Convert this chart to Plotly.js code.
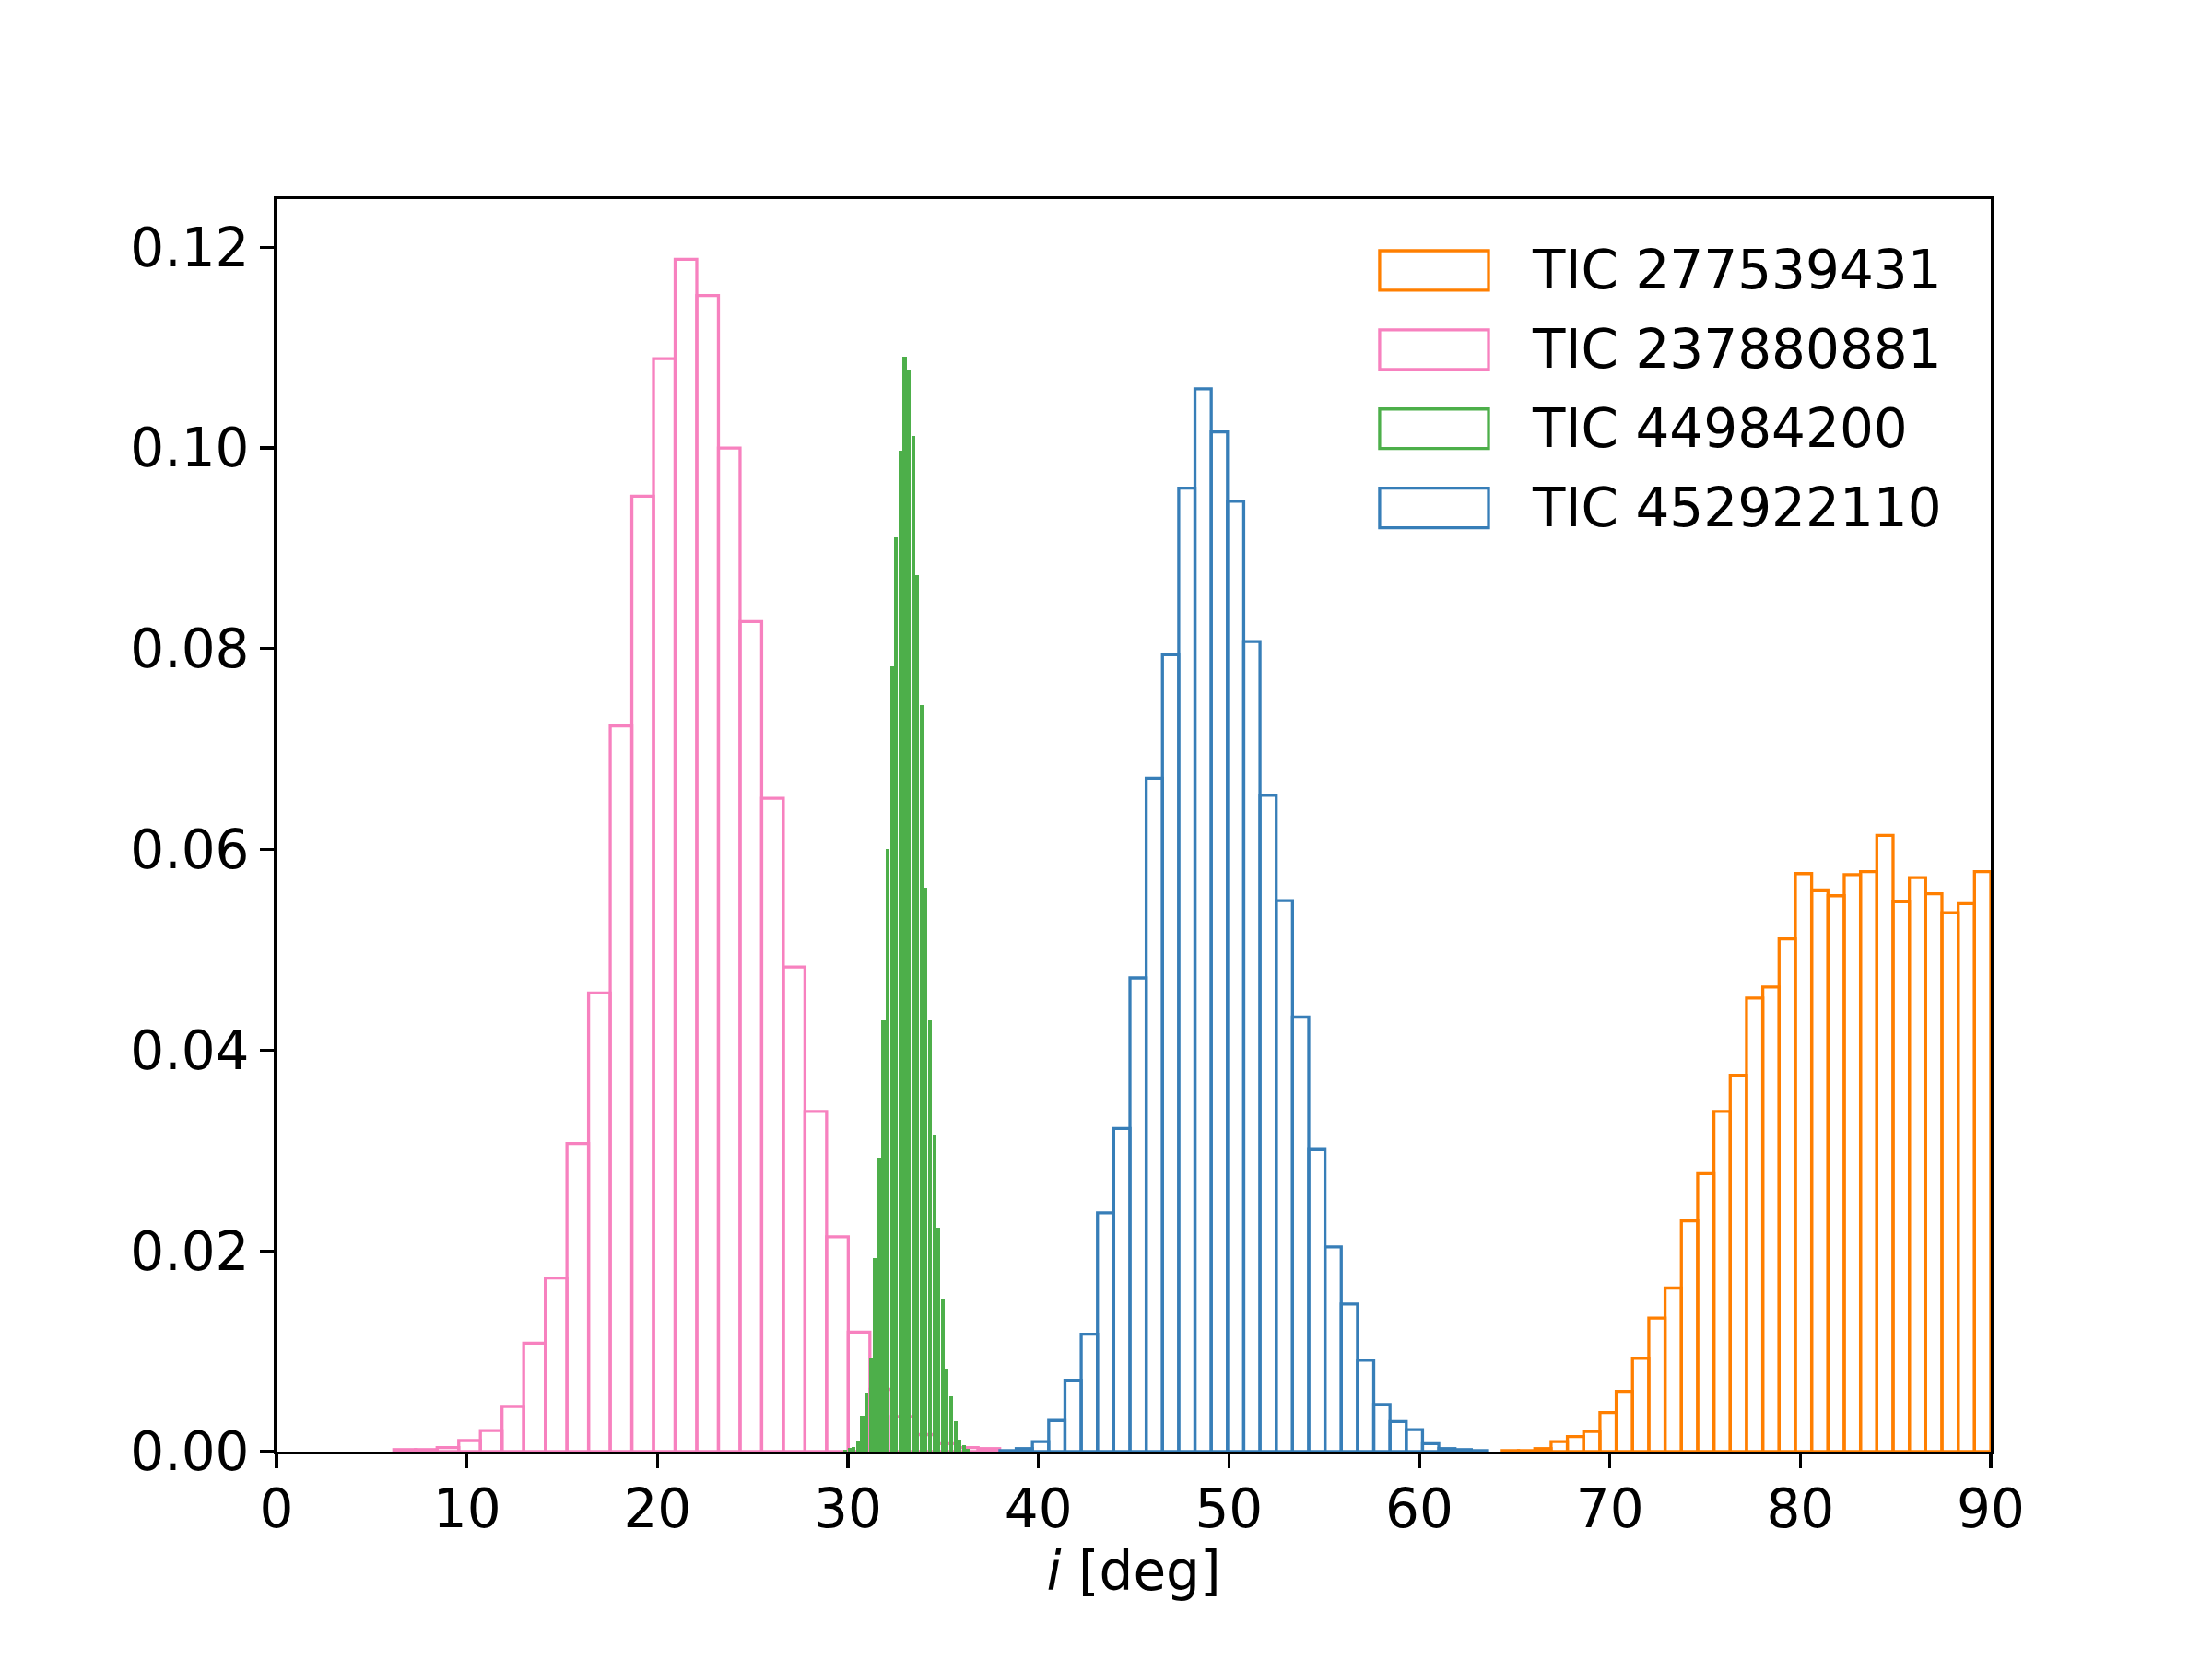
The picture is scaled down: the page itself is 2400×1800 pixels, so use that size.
<!DOCTYPE html>
<html>
<head>
<meta charset="utf-8">
<script src="https://cdn.plot.ly/plotly-3.0.1.min.js"></script>
<style>
  html, body { margin: 0; padding: 0; background: #ffffff; }
  #chart { width: 2400px; height: 1800px; }
</style>
</head>
<body>
<div id="chart"></div>
<script>
// ---- Data (fraction of samples per bin) ----
const seriesNames = ["TIC 277539431", "TIC 237880881", "TIC 44984200", "TIC 452922110"];

// TIC 277539431 (orange)
const orangeBinStart = 64.35;
const orangeBinWidth = 0.855;
const orangeValues = [0.0001, 0.0001, 0.0003, 0.0010, 0.0015, 0.0020, 0.0039, 0.0060, 0.0093, 0.0133,
  0.0163, 0.0230, 0.0277, 0.0339, 0.0375, 0.0452, 0.0463, 0.0511, 0.0576, 0.0559,
  0.0554, 0.0575, 0.0578, 0.0614, 0.0548, 0.0572, 0.0556, 0.0537, 0.0546, 0.0578];

// TIC 237880881 (pink)
const pinkBinStart = 6.16;
const pinkBinWidth = 1.136;
const pinkValues = [0.0002, 0.0002, 0.0004, 0.0011, 0.0021, 0.0045, 0.0108, 0.0173, 0.0307, 0.0457,
  0.0723, 0.0952, 0.1089, 0.1188, 0.1152, 0.1000, 0.0827, 0.0651, 0.0483, 0.0339,
  0.0214, 0.0119, 0.0062, 0.0035, 0.0017, 0.0008, 0.0004, 0.0003];

// TIC 44984200 (green)
const greenBinStart = 29.75;
const greenBinWidth = 0.2224;
const greenValues = [0.0002, 0.0004, 0.0005, 0.0011, 0.0036, 0.0059, 0.0094, 0.0193, 0.0293, 0.0430,
  0.0601, 0.0782, 0.0911, 0.0997, 0.1091, 0.1078, 0.1012, 0.0873, 0.0744, 0.0561,
  0.0430, 0.0316, 0.0223, 0.0152, 0.0083, 0.0055, 0.0030, 0.0012, 0.0006, 0.0003];

// TIC 452922110 (blue)
const blueBinStart = 37.98;
const blueBinWidth = 0.8533;
const blueValues = [0.0001, 0.0003, 0.0010, 0.0031, 0.0071, 0.0117, 0.0238, 0.0322, 0.0472, 0.0671,
  0.0794, 0.0960, 0.1059, 0.1016, 0.0947, 0.0807, 0.0654, 0.0549, 0.0433, 0.0301,
  0.0204, 0.0147, 0.0091, 0.0047, 0.0030, 0.0022, 0.0008, 0.0003, 0.0002, 0.0001];

const xTickVals = [0, 10, 20, 30, 40, 50, 60, 70, 80, 90];
const yTickVals = [0, 0.02, 0.04, 0.06, 0.08, 0.10, 0.12];
const xTitle = "<i>i</i> [deg]";

// ---- Styling ----
const colors = { orange: "#ff7f00", pink: "#f781bf", green: "#4daf4a", blue: "#377eb8" };
const FONT = "DejaVu Sans, sans-serif";
const FS = 58;
const LW = 3.3;

function centers(start, width, vals) {
  return vals.map((_, i) => start + (i + 0.5) * width);
}

function outlineTrace(name, start, width, vals, color) {
  return {
    type: "bar", name: name,
    x: centers(start, width, vals), y: vals,
    width: width,
    marker: { color: "rgba(0,0,0,0)", line: { color: color, width: LW } },
    showlegend: false, hoverinfo: "skip"
  };
}

const traces = [
  outlineTrace(seriesNames[0], orangeBinStart, orangeBinWidth, orangeValues, colors.orange),
  outlineTrace(seriesNames[1], pinkBinStart, pinkBinWidth, pinkValues, colors.pink),
  {
    type: "bar", name: seriesNames[2],
    x: centers(greenBinStart, greenBinWidth, greenValues), y: greenValues,
    width: greenBinWidth * 0.88,
    marker: { color: colors.green, line: { width: 0 } },
    showlegend: false, hoverinfo: "skip"
  },
  outlineTrace(seriesNames[3], blueBinStart, blueBinWidth, blueValues, colors.blue)
];

// Custom legend (matplotlib-style wide rectangle handles)
const legendColors = [colors.orange, colors.pink, colors.green, colors.blue];
const legX0 = 0.6435, legX1 = 0.707, legTextX = 0.7312;
const legTop = 0.9588, legH = 0.0316, legStep = 0.0632;
const shapes = [];
const annotations = [];
seriesNames.forEach((nm, i) => {
  const y1 = legTop - i * legStep;
  const y0 = y1 - legH;
  shapes.push({ type: "rect", xref: "paper", yref: "paper", x0: legX0, x1: legX1, y0: y0, y1: y1,
    line: { color: legendColors[i], width: LW }, fillcolor: "rgba(0,0,0,0)" });
  annotations.push({ xref: "paper", yref: "paper", x: legTextX, y: (y0 + y1) / 2,
    xanchor: "left", yanchor: "middle", text: nm, showarrow: false,
    font: { family: FONT, size: FS, color: "#000" } });
});

const layout = {
  width: 2400, height: 1800,
  margin: { l: 300, r: 240, t: 216, b: 225, pad: 0 },
  paper_bgcolor: "#ffffff", plot_bgcolor: "#ffffff",
  barmode: "overlay", bargap: 0,
  showlegend: false,
  font: { family: FONT, size: FS, color: "#000" },
  xaxis: {
    range: [0, 90], tickvals: xTickVals, ticktext: xTickVals.map(String),
    ticks: "outside", ticklen: 14.6, tickwidth: LW, tickcolor: "#000",
    showline: true, linewidth: LW, linecolor: "#000", mirror: true,
    showgrid: false, zeroline: false,
    ticklabelstandoff: -6,
    tickfont: { family: FONT, size: FS, color: "#000" },
    title: { text: xTitle, font: { family: FONT, size: FS, color: "#000" }, standoff: 16 }
  },
  yaxis: {
    range: [0, 0.1248], tickvals: yTickVals, ticktext: yTickVals.map(v => v.toFixed(2)),
    ticks: "outside", ticklen: 14.6, tickwidth: LW, tickcolor: "#000",
    showline: true, linewidth: LW, linecolor: "#000", mirror: true,
    showgrid: false, zeroline: false,
    tickfont: { family: FONT, size: FS, color: "#000" }
  },
  shapes: shapes,
  annotations: annotations
};

Plotly.newPlot("chart", traces, layout, { staticPlot: true, displayModeBar: false });
</script>
</body>
</html>
